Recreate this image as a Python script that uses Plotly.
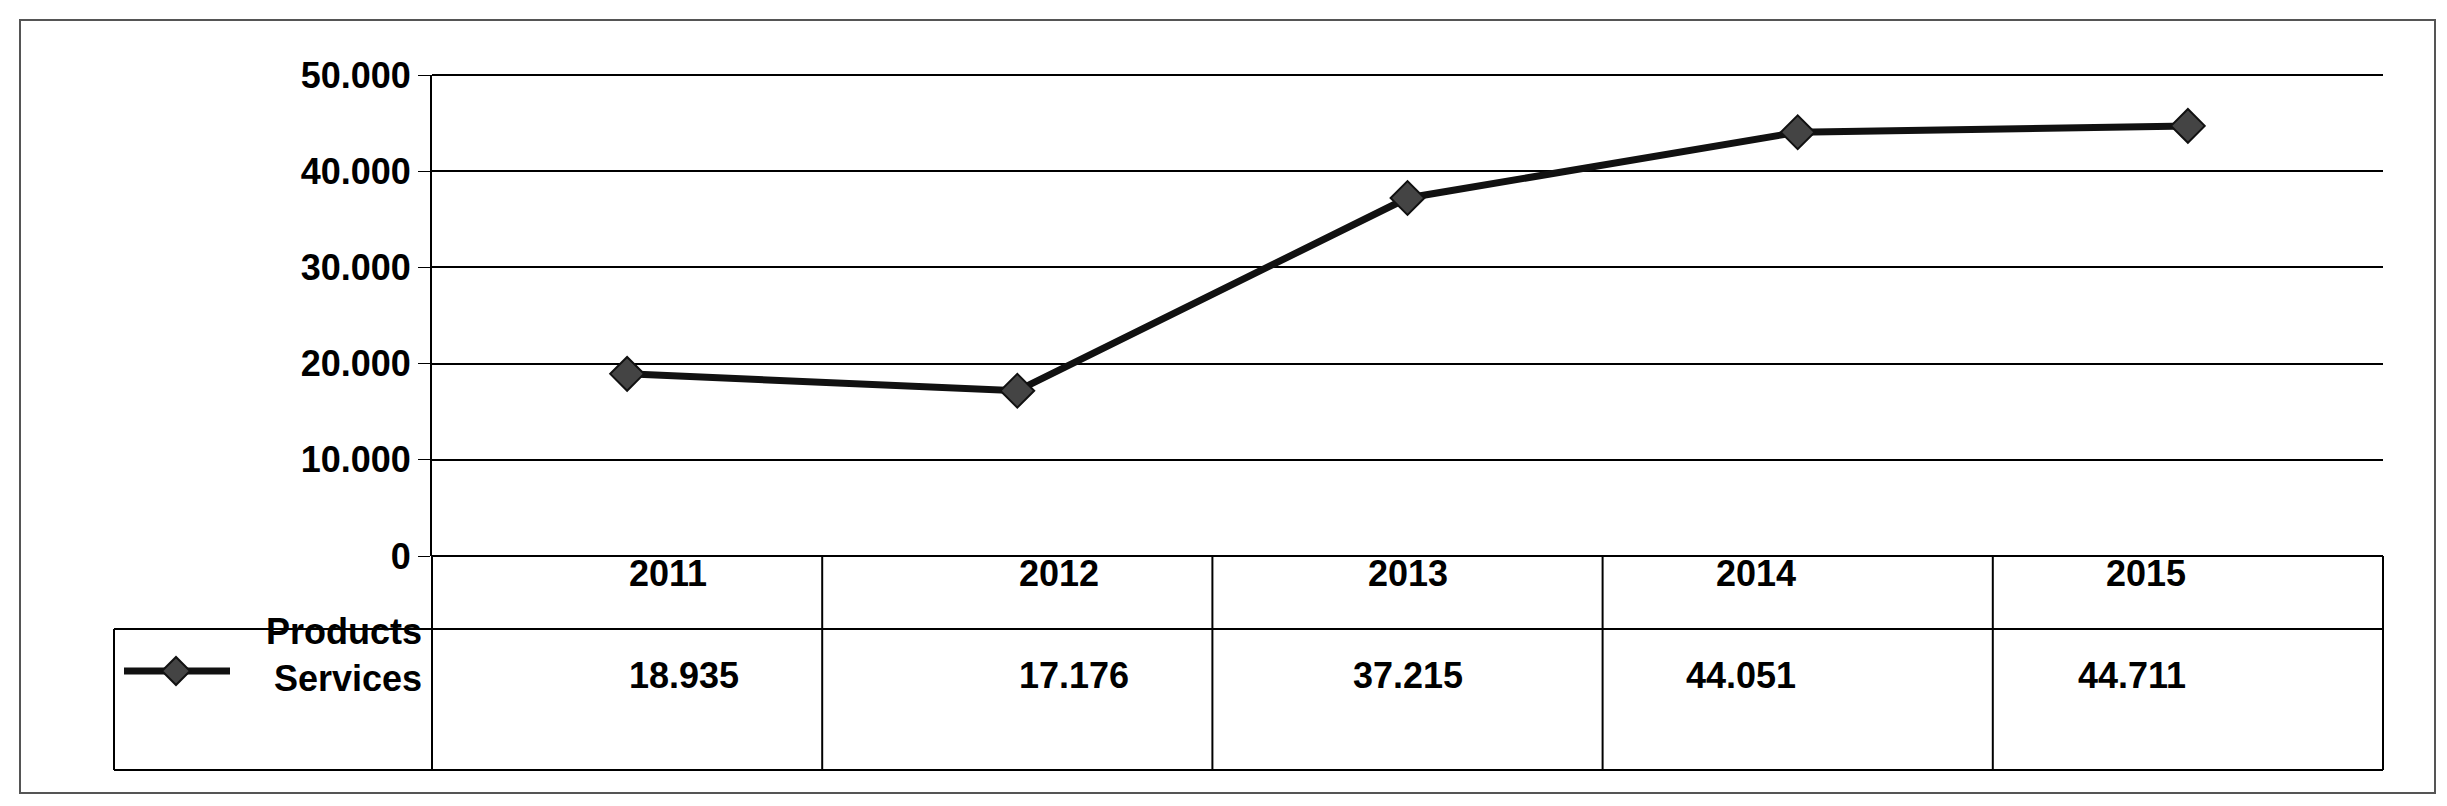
import plotly.graph_objects as go

years = ["2011", "2012", "2013", "2014", "2015"]
values = [18.935, 17.176, 37.215, 44.051, 44.711]
value_labels = ["18.935", "17.176", "37.215", "44.051", "44.711"]
ytick_vals = [0, 10, 20, 30, 40, 50]
ytick_text = ["0", "10.000", "20.000", "30.000", "40.000", "50.000"]

W, H = 2447, 806
L, R, T, B = 424, 72, 67, 258
pw, ph = W - L - R, H - T - B
def pxx(px): return (px - L) / pw
def py2y(py): return (H - B - py) / ph
def colx(i): return (i + 0.5) / 5  # paper x of category i center

font = dict(family="Liberation Sans", size=36, color="black")
fig = go.Figure(go.Scatter(x=list(range(5)), y=values, mode="lines+markers",
    line=dict(color="#111", width=7), cliponaxis=False,
    marker=dict(symbol="diamond", size=26, color="#444", line=dict(color="#111", width=2))))

shapes = []
lw = dict(color="black", width=2)
row1, bot = py2y(621), py2y(762)
leg_left = pxx(106)
for yy in (1, 0):
    shapes.append(dict(type="line", xref="paper", yref="paper", x0=0, x1=1, y0=yy, y1=yy, line=lw))
shapes.append(dict(type="line", xref="paper", yref="paper", x0=leg_left, x1=1, y0=row1, y1=row1, line=lw))
shapes.append(dict(type="line", xref="paper", yref="paper", x0=leg_left, x1=1, y0=bot, y1=bot, line=lw))
shapes.append(dict(type="line", xref="paper", yref="paper", x0=leg_left, x1=leg_left, y0=row1, y1=bot, line=lw))
for i in range(6):
    shapes.append(dict(type="line", xref="paper", yref="paper", x0=i / 5, x1=i / 5, y0=0, y1=bot, line=lw))
shapes.append(dict(type="rect", xref="paper", yref="paper", x0=pxx(12), x1=pxx(2427),
                   y0=py2y(785), y1=py2y(12), line=dict(color="#555", width=2)))
ly = py2y(663)
shapes.append(dict(type="line", xref="paper", yref="paper", x0=pxx(116), x1=pxx(222), y0=ly, y1=ly,
                   line=dict(color="#111", width=7)))
cx = pxx(168); dx = 14 / pw; dy = 14 / ph
shapes.append(dict(type="path", xref="paper", yref="paper",
    path=f"M {cx-dx} {ly} L {cx} {ly+dy} L {cx+dx} {ly} L {cx} {ly-dy} Z",
    fillcolor="#444", line=dict(color="#111", width=2)))

ann = []
for i, (yr, v) in enumerate(zip(years, value_labels)):
    ann.append(dict(x=colx(i), y=py2y(588), xref="paper", yref="paper", text=f"<b>{yr}</b>", showarrow=False, font=font))
    ann.append(dict(x=colx(i), y=py2y(690), xref="paper", yref="paper", text=f"<b>{v}</b>", showarrow=False, font=font))
ann.append(dict(x=0, y=py2y(693), xref="paper", yref="paper", xanchor="right", align="right",
                text="<b>Products<br>Services</b>", showarrow=False, font=font, xshift=-8))

fig.update_layout(width=W, height=H, margin=dict(l=L, r=R, t=T, b=B),
    plot_bgcolor="white", paper_bgcolor="white", showlegend=False,
    shapes=shapes, annotations=ann,
    xaxis=dict(range=[-0.5, 4.5], showticklabels=False, showgrid=False, zeroline=False),
    yaxis=dict(range=[0, 50], tickvals=ytick_vals, ticktext=[f"<b>{t}</b>" for t in ytick_text],
               showgrid=True, gridcolor="black", gridwidth=2, zeroline=False,
               showline=True, linecolor="black", linewidth=2, ticks="outside", ticklen=12,
               tickcolor="black", tickfont=font))
fig.write_html("out.html")
